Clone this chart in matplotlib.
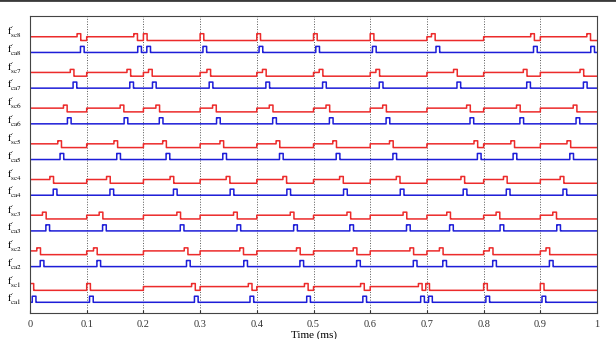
import matplotlib
matplotlib.use("Agg")
import matplotlib.pyplot as plt
from matplotlib.lines import Line2D
import numpy as np

# ---- data: event times (ms) per channel, one per 0.1 ms window ----
window_starts = [0.0, 0.1, 0.2, 0.3, 0.4, 0.5, 0.6, 0.7, 0.8, 0.9]

sc1 = [0.000, 0.100, 0.285, 0.385, 0.484, 0.583, 0.685, 0.698, 0.800, 0.900]
sc2 = [0.012, 0.112, 0.272, 0.370, 0.470, 0.570, 0.670, 0.722, 0.810, 0.910]
sc3 = [0.022, 0.122, 0.259, 0.359, 0.459, 0.559, 0.658, 0.735, 0.822, 0.922]
sc4 = [0.035, 0.135, 0.247, 0.346, 0.446, 0.546, 0.646, 0.760, 0.835, 0.935]
sc5 = [0.049, 0.148, 0.234, 0.335, 0.434, 0.534, 0.634, 0.783, 0.848, 0.947]
sc6 = [0.059, 0.159, 0.222, 0.322, 0.422, 0.522, 0.622, 0.770, 0.858, 0.958]
sc7 = [0.071, 0.171, 0.209, 0.312, 0.410, 0.510, 0.610, 0.747, 0.870, 0.970]
sc8 = [0.083, 0.183, 0.200, 0.300, 0.400, 0.500, 0.600, 0.708, 0.883, 0.982]

ca1 = [0.004, 0.105, 0.290, 0.388, 0.488, 0.587, 0.689, 0.703, 0.804, 0.903]
ca2 = [0.018, 0.118, 0.276, 0.377, 0.476, 0.576, 0.676, 0.728, 0.816, 0.916]
ca3 = [0.028, 0.128, 0.265, 0.365, 0.465, 0.564, 0.664, 0.740, 0.829, 0.929]
ca4 = [0.041, 0.141, 0.253, 0.353, 0.453, 0.553, 0.653, 0.764, 0.840, 0.940]
ca5 = [0.053, 0.153, 0.240, 0.340, 0.440, 0.540, 0.640, 0.789, 0.852, 0.952]
ca6 = [0.066, 0.166, 0.228, 0.329, 0.428, 0.528, 0.628, 0.776, 0.864, 0.963]
ca7 = [0.076, 0.176, 0.216, 0.316, 0.416, 0.516, 0.616, 0.753, 0.876, 0.976]
ca8 = [0.089, 0.190, 0.206, 0.305, 0.404, 0.504, 0.604, 0.716, 0.888, 0.989]

sc_list = [sc1, sc2, sc3, sc4, sc5, sc6, sc7, sc8]
ca_list = [ca1, ca2, ca3, ca4, ca5, ca6, ca7, ca8]
sc_labels = [r"$\mathrm{f}^{\prime}_{\mathrm{sc%d}}$" % (i + 1) for i in range(8)]
ca_labels = [r"$\mathrm{f}^{\prime}_{\mathrm{ca%d}}$" % (i + 1) for i in range(8)]
xticks = [0, 0.1, 0.2, 0.3, 0.4, 0.5, 0.6, 0.7, 0.8, 0.9, 1]
xticklabels = ["0", "0.1", "0.2", "0.3", "0.4", "0.5", "0.6", "0.7", "0.8", "0.9", "1"]

# ---- style ----
RED = "#ec2b2b"
BLUE = "#1d1dd8"
W_SC = 0.0065
W_CA = 0.0065
RED_L, RED_M, RED_H = 0.335, 0.44, 0.525
CA_H = 0.17

plt.rcParams["font.family"] = ["Liberation Serif", "DejaVu Serif"]
plt.rcParams["mathtext.fontset"] = "stix"

fig = plt.figure(figsize=(6.16, 3.39), dpi=100, facecolor="white")
ax = fig.add_axes([0.0487, 0.0767, 0.9205, 0.877])

t = np.linspace(0, 1, 20001)
for i in range(8):
    # red: mid level from window start to event, high during event, low after
    red = np.full_like(t, i + RED_L)
    for s, te in zip(window_starts, sc_list[i]):
        red[(t >= s) & (t < te)] = i + RED_M
    for te in sc_list[i]:
        red[(t >= te) & (t < te + W_SC)] = i + RED_H
    ax.plot(t, red, color=RED, lw=1.1, drawstyle="steps-post")

    blue = np.full_like(t, float(i))
    for tc in ca_list[i]:
        blue[(t >= tc) & (t < tc + W_CA)] = i + CA_H
    ax.plot(t, blue, color=BLUE, lw=1.1, drawstyle="steps-post")

    ax.text(-0.040, i + 0.57, sc_labels[i], transform=ax.get_yaxis_transform(),
            ha="left", va="center", fontsize=7.4)
    ax.text(-0.040, i + 0.08, ca_labels[i], transform=ax.get_yaxis_transform(),
            ha="left", va="center", fontsize=7.4)

ax.set_xlim(0, 1)
ax.set_ylim(-0.3, 8.03)
ax.set_xticks(xticks)
ax.set_xticklabels(xticklabels, fontsize=7.5)
ax.set_yticks([])
ax.tick_params(axis="x", direction="in", length=2, pad=5, colors="#333333")
ax.grid(axis="x", linestyle=":", color="#555555", lw=0.7)
for sp in ax.spines.values():
    sp.set_color("#444444")
    sp.set_linewidth(0.8)
ax.set_xlabel("Time (ms)", fontsize=8, labelpad=1)

# thin dark rule along the top edge
fig.add_artist(Line2D([0, 1], [0.999, 0.999], transform=fig.transFigure,
                      color="#3a3a3a", lw=2))

fig.savefig("out.png", dpi=100)
